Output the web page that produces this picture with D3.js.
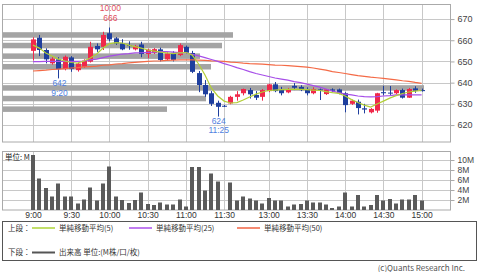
<!DOCTYPE html>
<html>
<head>
<meta charset="utf-8">
<script src="https://cdn.jsdelivr.net/npm/d3@7"></script>
<style>
  body { margin: 0; background: #fff; }
  svg { display: block; font-family: "Noto Sans CJK JP", "Noto Sans", sans-serif; }
</style>
</head>
<body>
<script>
// 5分足 (前場 9:00-11:30, 後場 12:30-15:00)
const times = ['9:00','9:05','9:10','9:15','9:20','9:25','9:30','9:35','9:40','9:45','9:50','9:55',
  '10:00','10:05','10:10','10:15','10:20','10:25','10:30','10:35','10:40','10:45','10:50','10:55',
  '11:00','11:05','11:10','11:15','11:20','11:25','11:30',
  '12:30','12:35','12:40','12:45','12:50','12:55','13:00','13:05','13:10','13:15','13:20','13:25',
  '13:30','13:35','13:40','13:45','13:50','13:55','14:00','14:05','14:10','14:15','14:20','14:25',
  '14:30','14:35','14:40','14:45','14:50','14:55','15:00']

const open = [655.0,661.2,655.4,649.1,651.0,646.4,651.9,645.9,647.5,649.9,
  657.3,656.9,663.3,660.9,658.5,657.7,655.7,658.0,653.5,654.0,
  655.7,651.0,654.1,653.0,656.9,654.0,644.5,638.9,635.0,630.5,
  629.1,630.2,633.3,635.0,636.5,634.2,633.3,636.0,639.2,636.5,
  635.4,638.5,638.0,637.0,635.0,636.8,634.6,636.8,636.8,635.0,
  630.0,631.0,627.9,626.0,626.8,635.5,635.3,635.0,636.5,632.9,
  637.3,636.5]
const high = [661.4,662.5,656.2,652.0,652.0,652.8,652.5,649.5,651.0,659.3,
  658.5,664.0,666.0,661.5,660.5,659.5,657.8,659.3,656.0,656.3,
  656.5,654.3,654.8,658.5,657.5,655.0,645.5,641.2,636.0,631.5,
  629.5,633.8,636.0,637.2,637.5,636.0,637.0,639.5,640.3,638.0,
  637.5,639.8,638.8,637.8,637.8,637.2,637.0,637.3,637.2,635.5,
  632.0,632.0,630.0,628.0,635.2,638.5,638.4,636.8,637.2,637.5,
  638.3,637.2]
const low = [650.5,652.5,649.1,648.5,642.0,645.8,645.1,645.2,647.0,649.5,
  654.5,655.4,659.5,657.8,655.3,655.5,655.2,652.0,651.5,653.5,
  650.0,650.5,650.0,652.5,653.5,644.5,635.5,633.3,629.0,624.0,
  628.5,629.8,631.5,634.0,632.5,631.8,631.5,635.5,635.5,634.0,
  635.0,636.5,636.0,634.0,634.5,631.8,634.2,635.5,634.5,626.0,
  629.5,625.0,625.5,625.5,625.8,634.0,634.2,634.6,632.5,632.8,
  635.2,635.8]
const close = [660.4,655.4,651.0,651.3,646.4,652.2,646.4,649.0,650.4,656.9,
  655.7,662.5,660.4,658.5,655.7,657.3,657.3,653.5,655.6,655.8,
  650.7,653.8,650.7,657.7,654.1,645.1,638.9,634.5,630.0,628.6,
  629.1,633.3,634.5,637.0,634.5,632.9,636.5,639.2,636.0,635.0,
  637.0,637.6,636.5,635.0,637.0,636.4,636.8,636.2,635.0,629.4,
  631.5,628.0,627.3,627.6,635.0,635.0,635.0,636.5,632.9,637.0,
  636.2,636.0]

// 出来高 (M株)
const volume = [11.0,6.3,4.4,2.7,5.3,2.7,2.7,1.3,2.1,4.5,
  1.9,5.3,8.7,2.7,2.0,1.4,2.0,3.5,1.2,1.0,
  1.5,1.1,1.1,2.1,0.7,8.6,8.6,3.9,7.3,5.7,
  0,5.5,1.9,2.7,2.3,1.9,1.3,2.4,1.9,1.9,
  0.7,1.1,1.2,1.9,1.5,1.5,1.1,0.4,0.7,3.5,
  0.7,3.0,0.7,1.0,3.0,1.9,2.2,1.3,2.1,2.1,
  3.0,1.9]

const ma5 = [657.7,656.3,654.0,652.6,651.1,650.2,649.5,649.2,650.2,651.6,
  653.5,656.3,658.4,658.9,658.7,657.7,657.0,656.3,655.4,654.9,
  654.4,654.0,653.7,654.0,654.2,653.0,648.8,643.6,637.4,633.7,
  631.3,630.4,630.6,631.8,633.2,634.6,635.6,636.3,636.5,636.7,
  636.8,636.8,636.8,636.7,636.5,636.3,635.8,635.3,634.9,633.7,
  632.0,630.6,629.4,628.5,629.9,631.3,632.7,633.9,634.9,635.6,
  636.0,636.3]
const ma25 = [649.9,649.9,650.0,650.0,650.0,650.0,650.0,650.0,650.2,650.7,
  651.1,651.8,652.5,653.0,653.5,653.7,654.0,654.1,654.3,654.4,
  654.6,654.6,654.4,654.2,654.0,653.3,652.6,651.8,650.9,650.0,
  649.0,648.1,647.1,646.2,645.2,644.3,643.6,642.9,642.2,641.7,
  641.2,640.5,640.0,639.3,638.6,637.9,637.0,636.0,635.3,634.6,
  634.2,633.7,633.4,633.3,633.4,633.7,633.9,634.2,634.2,634.2,
  634.2,634.2]
const ma50 = [645.5,645.7,645.9,646.2,646.4,646.6,646.9,647.1,647.4,647.6,
  647.8,648.2,648.4,648.8,649.0,649.3,649.6,649.8,650.0,650.2,
  650.3,650.5,650.6,650.7,650.7,650.7,650.6,650.5,650.3,650.2,
  650.0,649.7,649.5,649.2,649.0,648.9,648.7,648.5,648.3,648.2,
  648.0,647.8,647.6,647.3,646.9,646.4,645.9,645.2,644.8,644.3,
  643.8,643.3,643.0,642.6,642.3,642.0,641.7,641.3,640.9,640.6,
  640.1,639.7]

// 価格帯別出来高
const bandPrices = [662.5, 657.5, 652.5, 647.5, 642.5, 637.5, 632.5, 627.5]
const bandVolumes = [23.1, 22.0, 19.8, 20.9, 0, 42.2, 20.4, 16.5]

const timeTicks = ['9:00','9:30','10:00','10:30','11:00','11:30','13:00','13:30','14:00','14:30','15:00']
const priceTicks = [620, 630, 640, 650, 660, 670]
const volTicks = [2, 4, 6, 8, 10]

const upColor = '#f0284a'
const downColor = '#1f3f9e'
const gridColor = '#c8c8c8'
const frameColor = '#aaaaaa'

const svg = d3.select('body').append('svg')
    .attr('width', 480)
    .attr('height', 272)

const left = 2, right = 450
const x = d3.scalePoint().domain(times).range([33, 421.6])
const y = d3.scaleLinear().domain([612, 677.1]).range([142, 4])
const yv = d3.scaleLinear().domain([0, 11.8]).range([210, 151])
const xb = d3.scaleLinear().domain([0, 44.8]).range([left, right])

const px = v => Math.round(v) + 0.5

// grids
const grid = svg.append('g').attr('stroke', gridColor).attr('stroke-width', 1)
grid.selectAll('.hp').data(priceTicks).enter().append('line')
    .attr('x1', left).attr('x2', right)
    .attr('y1', d => px(y(d))).attr('y2', d => px(y(d)))
grid.selectAll('.hv').data(volTicks).enter().append('line')
    .attr('x1', left).attr('x2', right)
    .attr('y1', d => px(yv(d))).attr('y2', d => px(yv(d)))
grid.selectAll('.vp').data(timeTicks).enter().append('line')
    .attr('x1', d => px(x(d))).attr('x2', d => px(x(d)))
    .attr('y1', 4).attr('y2', 142)
grid.selectAll('.vv').data(timeTicks).enter().append('line')
    .attr('x1', d => px(x(d))).attr('x2', d => px(x(d)))
    .attr('y1', 151).attr('y2', 210)

// price band volume
svg.append('g').selectAll('rect')
    .data(bandPrices.map((p, i) => ({ p, v: bandVolumes[i] })).filter(d => d.v > 0))
    .enter().append('rect')
    .attr('x', left)
    .attr('width', d => xb(d.v) - left)
    .attr('y', d => y(d.p + 1.3))
    .attr('height', d => y(d.p - 1.3) - y(d.p + 1.3))
    .attr('fill', '#a4a4a4')

// frames
svg.append('rect').attr('x', left + 0.5).attr('y', 4.5).attr('width', right - left).attr('height', 137.5)
    .attr('fill', 'none').attr('stroke', frameColor)
svg.append('rect').attr('x', left + 0.5).attr('y', 151.5).attr('width', right - left).attr('height', 58.5)
    .attr('fill', 'none').attr('stroke', frameColor)

// candles
const candles = svg.append('g').selectAll('g')
    .data(times.map((t, i) => ({ t, o: open[i], h: high[i], l: low[i], c: close[i] })))
    .enter().append('g')
candles.append('line')
    .attr('x1', d => px(x(d.t))).attr('x2', d => px(x(d.t)))
    .attr('y1', d => y(d.h)).attr('y2', d => y(d.l))
    .attr('stroke', d => d.c > d.o ? upColor : downColor)
candles.append('rect')
    .attr('x', d => Math.round(x(d.t)) - 2)
    .attr('width', 5)
    .attr('y', d => y(Math.max(d.o, d.c)))
    .attr('height', d => Math.max(1, Math.abs(y(d.o) - y(d.c))))
    .attr('fill', d => d.c > d.o ? upColor : downColor)

// moving averages
const maLine = d3.line().x((d, i) => x(times[i])).y(d => y(d))
const maSeries = [
  { values: ma50, color: '#f46a46' },
  { values: ma25, color: '#a64ee8' },
  { values: ma5, color: '#b2cf36' }
]
svg.append('g').selectAll('path').data(maSeries).enter().append('path')
    .attr('d', d => maLine(d.values))
    .attr('fill', 'none')
    .attr('stroke', d => d.color)
    .attr('stroke-width', 1.2)

// high / low annotations
const hiIdx = d3.maxIndex(high)
const loIdx = d3.minIndex(low)
const loAmIdx = d3.minIndex(low.slice(0, 10))
const notes = [
  { i: hiIdx, lines: [times[hiIdx], d3.format('d')(high[hiIdx])], yy: [8.5, 18], color: '#e0505e' },
  { i: loAmIdx, lines: [d3.format('d')(low[loAmIdx]), times[loAmIdx]], yy: [83.5, 93], color: '#4f7fe0' },
  { i: loIdx, lines: [d3.format('d')(low[loIdx]), times[loIdx]], yy: [121, 130.5], color: '#4f7fe0' }
]
notes.forEach(n => {
  n.lines.forEach((s, k) => {
    svg.append('text')
        .attr('x', x(times[n.i]) + 1)
        .attr('y', n.yy[k])
        .attr('dy', '0.35em')
        .attr('text-anchor', 'middle')
        .attr('font-family', '"Liberation Sans", sans-serif')
        .attr('font-size', 8.5)
        .attr('fill', n.color)
        .text(s)
  })
})

// volume bars
svg.append('g').selectAll('rect')
    .data(times.map((t, i) => ({ t, v: volume[i] })).filter(d => d.v > 0))
    .enter().append('rect')
    .attr('x', d => Math.round(x(d.t)) - 2)
    .attr('width', 4)
    .attr('y', d => Math.max(151, yv(d.v)))
    .attr('height', d => yv(0) - Math.max(151, yv(d.v)))
    .attr('fill', '#5a5a5a')

svg.append('text').attr('x', 5).attr('y', 157).attr('dy', '0.35em')
    .attr('font-size', 7.5).attr('fill', '#222').text('単位: M')

// axes
const priceAxis = d3.axisRight(y).tickValues(priceTicks).tickSize(4).tickPadding(3)
svg.append('g').attr('transform', `translate(${right + 0.5},0)`).call(priceAxis)
    .call(g => g.select('.domain').remove())
    .call(g => g.selectAll('line').attr('stroke', frameColor))
    .call(g => g.selectAll('text').attr('font-size', 9).attr('fill', '#444').attr('font-family', null))

const volAxis = d3.axisRight(yv).tickValues(volTicks).tickSize(4).tickPadding(3).tickFormat(d => d + 'M')
svg.append('g').attr('transform', `translate(${right + 0.5},0)`).call(volAxis)
    .call(g => g.select('.domain').remove())
    .call(g => g.selectAll('line').attr('stroke', frameColor))
    .call(g => g.selectAll('text').attr('font-size', 8.5).attr('fill', '#444').attr('font-family', null))

const timeAxis = d3.axisBottom(x).tickValues(timeTicks).tickSize(0).tickPadding(1.5)
svg.append('g').attr('transform', 'translate(0,210)').call(timeAxis)
    .call(g => g.select('.domain').remove())
    .call(g => g.selectAll('text').attr('font-size', 8.5).attr('fill', '#333').attr('font-family', null))

// legend
const legend = svg.append('g')
legend.append('rect').attr('x', 2.5).attr('y', 221.5).attr('width', 474).attr('height', 39)
    .attr('fill', 'none').attr('stroke', '#555')
const legendRows = [
  { label: '上段：', y: 228, items: [
    { x: 32, color: '#c2df6a', text: '単純移動平均(5)' },
    { x: 129, color: '#c07cf0', text: '単純移動平均(25)' },
    { x: 237, color: '#f58a72', text: '単純移動平均(50)' }
  ] },
  { label: '下段：', y: 252.5, items: [
    { x: 32, color: '#555', text: '出来高 単位:(M株/口/枚)' }
  ] }
]
legendRows.forEach(r => {
  legend.append('text').attr('x', 8).attr('y', r.y).attr('dy', '0.35em')
      .attr('font-size', 7.5).attr('fill', '#333').text(r.label)
  r.items.forEach(it => {
    legend.append('line').attr('x1', it.x).attr('x2', it.x + 23)
        .attr('y1', r.y).attr('y2', r.y)
        .attr('stroke', it.color).attr('stroke-width', 2)
    legend.append('text').attr('x', it.x + 27).attr('y', r.y).attr('dy', '0.35em')
        .attr('font-size', 7.5).attr('fill', '#333').text(it.text)
  })
})

svg.append('text').attr('x', 465).attr('y', 268).attr('dy', '0.35em')
    .attr('text-anchor', 'end').attr('font-size', 8).attr('fill', '#555')
    .text('(c)Quants Research Inc.')
</script>
</body>
</html>
